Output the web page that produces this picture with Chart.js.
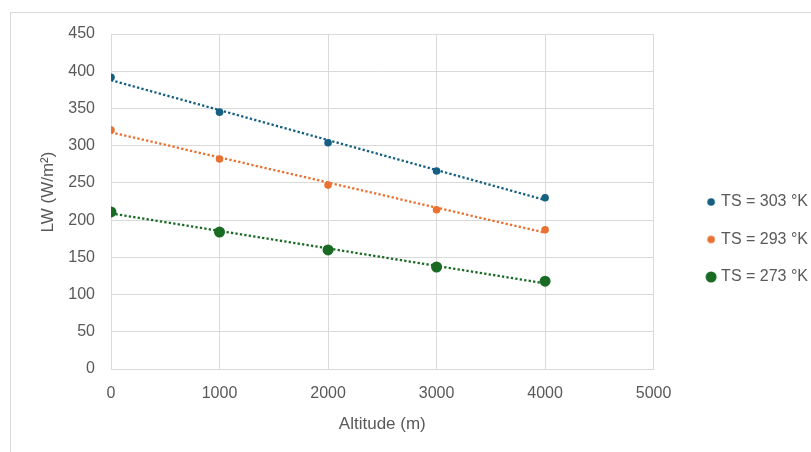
<!DOCTYPE html>
<html>
<head>
<meta charset="utf-8">
<script src="https://cdn.jsdelivr.net/npm/chart.js@4.4.1/dist/chart.umd.min.js"></script>
<style>
  html, body { margin: 0; padding: 0; background: #ffffff; }
  #wrap { width: 811px; height: 452px; position: relative; }
</style>
</head>
<body>
<div id="wrap"><canvas id="c" width="811" height="452"></canvas></div>
<script>
// ---- data ----
const altitudes = [0, 1000, 2000, 3000, 4000];
const lw303 = [392, 345, 304, 266, 230];
const lw293 = [321, 282, 247, 214, 187];
const lw273 = [211, 184, 160, 137, 118];
// linear trendlines (start at 0 m, end at 4000 m)
const trendX = [0, 4000];
const trend303 = [388, 227];
const trend293 = [318, 183];
const trend273 = [209, 115];
const seriesLabels = ['TS = 303 °K', 'TS = 293 °K', 'TS = 273 °K'];
const xTickValues = [0, 1000, 2000, 3000, 4000, 5000];
const yTickValues = [0, 50, 100, 150, 200, 250, 300, 350, 400, 450];
const xTitle = 'Altitude (m)';
const yTitle = 'LW (W/m²)';

const colors = ['#156082', '#E97132', '#196B24'];
const radii = [3.8, 3.8, 5.5];
const textColor = '#595959';
const gridColor = '#d9d9d9';
const FONT = "'Liberation Sans', Arial, sans-serif";

function pts(xs, ys) { return xs.map((x, i) => ({ x: x, y: ys[i] })); }

const seriesValues = [lw303, lw293, lw273];
const trendValues = [trend303, trend293, trend273];

const legendBoxW = 38;
function legendMarker(color, r) {
  const cv = document.createElement('canvas');
  cv.width = legendBoxW + 20;
  cv.height = 16;
  const g = cv.getContext('2d');
  g.fillStyle = color;
  g.beginPath();
  g.arc(legendBoxW - 2 + 10, 8, r, 0, Math.PI * 2);
  g.fill();
  return cv;
}
const markers = colors.map((c, i) => legendMarker(c, radii[i]));

const datasets = [];
seriesValues.forEach((vals, i) => {
  datasets.push({
    type: 'scatter',
    label: seriesLabels[i],
    data: pts(altitudes, vals),
    backgroundColor: colors[i],
    borderColor: colors[i],
    pointRadius: radii[i],
    pointBorderWidth: 0,
    showLine: false,
    order: 1
  });
});
trendValues.forEach((vals, i) => {
  datasets.push({
    type: 'line',
    label: 'trend ' + seriesLabels[i],
    data: pts(trendX, vals),
    borderColor: colors[i],
    borderWidth: 2.3,
    borderDash: [2.3, 2.2],
    pointRadius: 0,
    fill: false,
    tension: 0,
    order: 2
  });
});

const frame = {
  id: 'frame',
  beforeDraw(chart) {
    const ctx = chart.ctx;
    ctx.save();
    ctx.strokeStyle = '#d9d9d9';
    ctx.lineWidth = 1;
    ctx.strokeRect(10.5, 12.5, 900, 500);
    ctx.restore();
  }
};

new Chart(document.getElementById('c'), {
  data: { datasets: datasets },
  options: {
    responsive: false,
    animation: false,
    layout: { padding: { top: 34, left: 12, right: -7, bottom: 7 } },
    plugins: {
      tooltip: { enabled: false },
      legend: {
        position: 'right',
        labels: {
          usePointStyle: true,
          pointStyleWidth: legendBoxW,
          padding: 21.5,
          color: textColor,
          font: { family: FONT, size: 16 },
          generateLabels(chart) {
            return seriesLabels.map((t, i) => ({
              text: t,
              fillStyle: colors[i],
              strokeStyle: colors[i],
              lineWidth: 0,
              pointStyle: markers[i],
              fontColor: textColor,
              hidden: false,
              datasetIndex: i
            }));
          }
        }
      }
    },
    scales: {
      x: {
        type: 'linear',
        min: 0,
        max: 5000,
        afterBuildTicks(s) { s.ticks = xTickValues.map(v => ({ value: v })); },
        afterFit(s) { s.height = 76; },
        ticks: { color: textColor, font: { family: FONT, size: 16 }, padding: 15, maxRotation: 0,
                 callback: v => String(v) },
        grid: { color: gridColor, lineWidth: 1, drawTicks: false },
        border: { color: gridColor, width: 1 },
        title: { display: true, text: xTitle, color: textColor, font: { family: FONT, size: 17 }, padding: { top: 0, bottom: 10 } }
      },
      y: {
        type: 'linear',
        min: 0,
        max: 450,
        afterBuildTicks(s) { s.ticks = yTickValues.map(v => ({ value: v })); },
        afterFit(s) { s.width = 99; },
        ticks: { color: textColor, font: { family: FONT, size: 16 }, padding: 16, callback: v => String(v) },
        grid: { color: gridColor, lineWidth: 1, drawTicks: false },
        border: { color: gridColor, width: 1 },
        title: { display: true, text: '    ' + yTitle, color: textColor, font: { family: FONT, size: 17 }, padding: { top: 26, bottom: 0 } }
      }
    }
  },
  plugins: [frame]
});
</script>
</body>
</html>
